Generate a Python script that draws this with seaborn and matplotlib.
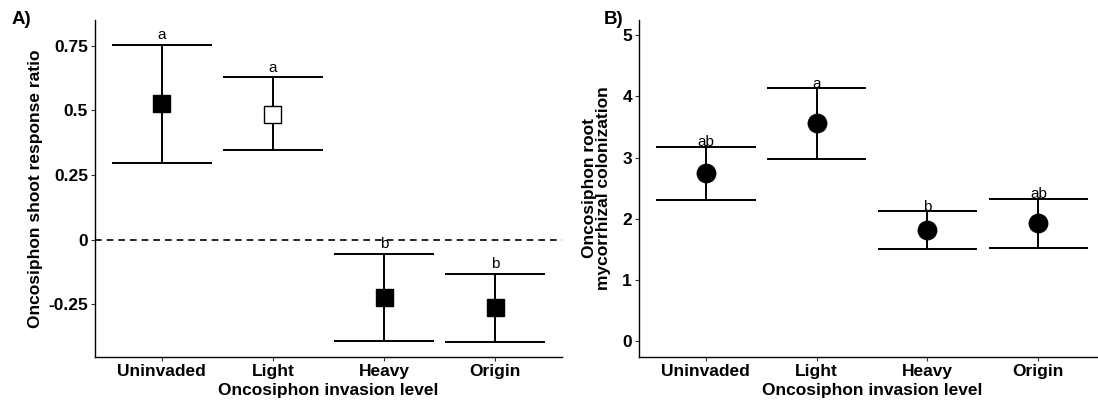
import matplotlib
matplotlib.use("Agg")
import matplotlib.pyplot as plt
import seaborn as sns
import pandas as pd
import numpy as np

# Invasion levels (x categories)
levels = ["Uninvaded", "Light", "Heavy", "Origin"]

# Panel A: shoot response ratio (mean and interval bounds)
shoot_mean = [0.525, 0.485, -0.225, -0.265]
shoot_lower = [0.295, 0.345, -0.392, -0.397]
shoot_upper = [0.755, 0.628, -0.057, -0.132]
shoot_letters = ["a", "a", "b", "b"]
shoot_fill = ["filled", "open", "filled", "filled"]

# Panel B: root mycorrhizal colonization
myco_mean = [2.75, 3.56, 1.82, 1.93]
myco_lower = [2.31, 2.97, 1.50, 1.53]
myco_upper = [3.18, 4.14, 2.13, 2.33]
myco_letters = ["ab", "a", "b", "ab"]

sns.set_theme(style="ticks")
plt.rcParams["font.family"] = ["Liberation Sans", "DejaVu Sans"]
plt.rcParams["text.color"] = "black"
plt.rcParams["axes.labelcolor"] = "black"
plt.rcParams["xtick.color"] = "#333333"
plt.rcParams["ytick.color"] = "#333333"

W, H = 1098, 409
fig = plt.figure(figsize=(W / 100, H / 100), dpi=100)

def px_axes(left, top, right, bottom):
    return fig.add_axes([left / W, 1 - bottom / H, (right - left) / W, (bottom - top) / H])

axA = px_axes(95, 20, 562, 357)
axB = px_axes(639, 20, 1105, 357)

CAP = 0.45
LW = 1.4


def draw_bars(ax, lower, upper):
    x = np.arange(len(levels))
    ax.vlines(x, lower, upper, color="black", lw=LW, zorder=2)
    ax.hlines(lower, x - CAP, x + CAP, color="black", lw=LW, zorder=2)
    ax.hlines(upper, x - CAP, x + CAP, color="black", lw=LW, zorder=2)


def style_axis(ax, ylabel, ypad):
    sns.despine(ax=ax)
    ax.set_xlim(-0.6, 3.6)
    ax.set_xticks(range(len(levels)))
    ax.set_xticklabels(levels)
    ax.set_xlabel("Oncosiphon invasion level", fontsize=12.5, fontweight="bold",
                  labelpad=3, color="black")
    ax.set_ylabel(ylabel, fontsize=12.5, fontweight="bold", labelpad=ypad,
                  linespacing=0.95, color="black")
    ax.tick_params(axis="both", length=3, width=0.8, color="#333333", pad=2)
    for lab in ax.get_xticklabels() + ax.get_yticklabels():
        lab.set_fontweight("bold")
        lab.set_fontsize(12.5)
        lab.set_color("black")
    for s in ("left", "bottom"):
        ax.spines[s].set_color("black")
        ax.spines[s].set_linewidth(1.0)


# ---- Panel A ----
dfA = pd.DataFrame({"level": levels, "mean": shoot_mean, "fill": shoot_fill})
axA.axhline(0, color="black", lw=1.2, ls=(0, (4, 3)), zorder=1)
draw_bars(axA, shoot_lower, shoot_upper)
sns.scatterplot(data=dfA, x="level", y="mean", hue="fill",
                palette={"filled": "black", "open": "white"},
                marker="s", s=150, edgecolor="black", linewidth=1.0,
                legend=False, zorder=3, ax=axA)
for i, (u, t) in enumerate(zip(shoot_upper, shoot_letters)):
    axA.annotate(t, (i, u), xytext=(0, 2), textcoords="offset points",
                 ha="center", va="bottom", fontsize=11, color="black")
axA.set_ylim(-0.455, 0.85)
axA.set_yticks([-0.25, 0, 0.25, 0.5, 0.75])
axA.set_yticklabels(["-0.25", "0", "0.25", "0.5", "0.75"])
style_axis(axA, "Oncosiphon shoot response ratio", 4)

# ---- Panel B ----
dfB = pd.DataFrame({"level": levels, "mean": myco_mean})
draw_bars(axB, myco_lower, myco_upper)
sns.scatterplot(data=dfB, x="level", y="mean", color="black",
                marker="o", s=190, edgecolor="black", linewidth=0.5,
                legend=False, zorder=3, ax=axB)
for i, (u, t) in enumerate(zip(myco_upper, myco_letters)):
    axB.annotate(t, (i, u), xytext=(0, -2), textcoords="offset points",
                 ha="center", va="bottom", fontsize=11, color="black")
axB.set_ylim(-0.26, 5.25)
axB.set_yticks([0, 1, 2, 3, 4, 5])
axB.set_yticklabels(["0", "1", "2", "3", "4", "5"])
style_axis(axB, "Oncosiphon root\nmycorrhizal colonization", 8)

fig.text(12 / W, 1 - 20 / H, "A)", fontsize=13.5, fontweight="bold", va="center", ha="left")
fig.text(604 / W, 1 - 20 / H, "B)", fontsize=13.5, fontweight="bold", va="center", ha="left")

fig.savefig("out.png", dpi=100)
